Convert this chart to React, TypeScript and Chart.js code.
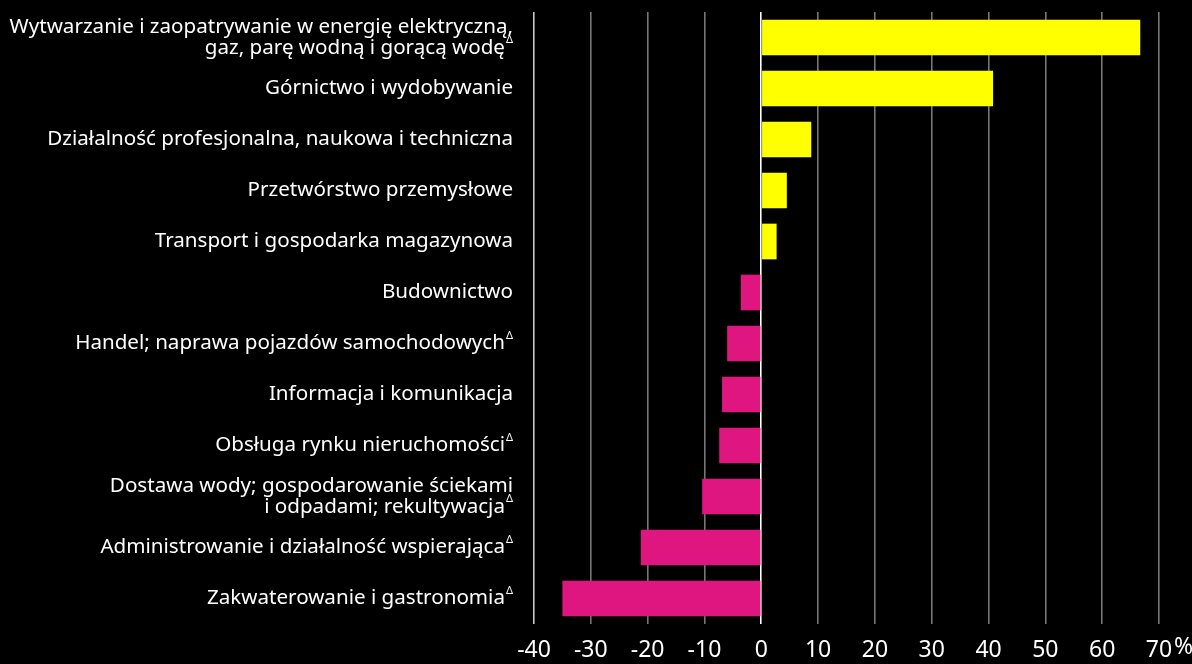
import React, { useEffect, useRef } from "react";
import { Chart, registerables } from "chart.js";

Chart.register(...registerables);

const categories: string[][] = [
  ["Wytwarzanie i zaopatrywanie w energię elektryczną,", "gaz, parę wodną i gorącą wodę"],
  ["Górnictwo i wydobywanie"],
  ["Działalność profesjonalna, naukowa i techniczna"],
  ["Przetwórstwo przemysłowe"],
  ["Transport i gospodarka magazynowa"],
  ["Budownictwo"],
  ["Handel; naprawa pojazdów samochodowych"],
  ["Informacja i komunikacja"],
  ["Obsługa rynku nieruchomości"],
  ["Dostawa wody; gospodarowanie ściekami", "i odpadami; rekultywacja"],
  ["Administrowanie i działalność wspierająca"],
  ["Zakwaterowanie i gastronomia"],
];
const deltaMarks: boolean[] = [true, false, false, false, false, false, true, false, true, true, true, true];
const values: number[] = [66.7, 40.8, 8.8, 4.5, 2.7, -3.6, -6.0, -6.9, -7.4, -10.4, -21.2, -35.0];
const xMin = -40;
const xMax = 70;
const xStep = 10;
const unitLabel = "%";

const POS_COLOR = "#FFFF00";
const NEG_COLOR = "#DF1680";
const FONT = "'Noto Sans', 'Open Sans', sans-serif";
const LABEL_SIZE = 20.6;
const TICK_SIZE = 23;

const labelPlugin = {
  id: "customLabels",
  afterDraw(chart: any) {
    const ctx = chart.ctx;
    const yScale = chart.scales.y;
    const xScale = chart.scales.x;
    const right = 513;
    const lineH = 21;
    ctx.save();
    ctx.fillStyle = "#ffffff";
    ctx.textBaseline = "middle";
    categories.forEach((lines, i) => {
      const cy = yScale.getPixelForValue(i);
      const n = lines.length;
      lines.forEach((line, j) => {
        const y = cy + (j - (n - 1) / 2) * lineH;
        let endX = right;
        const isLast = j === n - 1;
        if (isLast && deltaMarks[i]) {
          ctx.font = `11px ${FONT}`;
          ctx.textAlign = "right";
          const dw = ctx.measureText("Δ").width;
          ctx.fillText("Δ", right, y - 8);
          endX = right - dw - 1;
        }
        ctx.font = `${LABEL_SIZE}px ${FONT}`;
        ctx.textAlign = "right";
        ctx.fillText(line, endX, y);
      });
    });
    // unit sign next to the last tick
    const lastX = xScale.getPixelForValue(xMax);
    ctx.font = `${TICK_SIZE}px ${FONT}`;
    ctx.textAlign = "left";
    ctx.textBaseline = "middle";
    ctx.fillText(unitLabel, lastX + 15, 647);
    ctx.restore();
  },
};

export default function App() {
  const canvasRef = useRef<HTMLCanvasElement | null>(null);

  useEffect(() => {
    const canvas = canvasRef.current;
    if (!canvas) return;
    const chart = new Chart(canvas, {
      type: "bar",
      data: {
        labels: categories.map((c) => c.join(" ")),
        datasets: [
          {
            data: values,
            backgroundColor: values.map((v) => (v >= 0 ? POS_COLOR : NEG_COLOR)),
            borderWidth: 0,
            categoryPercentage: 0.7,
            barPercentage: 1,
          },
        ],
      },
      options: {
        indexAxis: "y",
        animation: false,
        responsive: false,
        maintainAspectRatio: false,
        layout: { padding: { top: 12, right: 33, left: 0, bottom: 0 } },
        plugins: {
          legend: { display: false },
          tooltip: { enabled: false },
        },
        scales: {
          x: {
            type: "linear",
            position: "bottom",
            min: xMin,
            max: xMax,
            afterFit: (scale: any) => {
              scale.height = 40;
            },
            border: { display: false },
            grid: {
              drawTicks: false,
              lineWidth: 1.6,
              color: (c: any) => {
                const v = c.tick ? c.tick.value : null;
                if (v === 0) return "#ffffff";
                if (v === xMin) return "#c8c8c8";
                return "#767676";
              },
            },
            ticks: {
              stepSize: xStep,
              color: "#ffffff",
              padding: 13,
              font: { family: FONT, size: TICK_SIZE },
              callback: (v: any) => String(v),
            },
          },
          y: {
            type: "category",
            afterFit: (scale: any) => {
              scale.width = 534;
            },
            border: { display: false },
            grid: { display: false, drawTicks: false },
            ticks: { display: false },
          },
        },
      },
      plugins: [labelPlugin],
    });
    return () => chart.destroy();
  }, []);

  return (
    <div
      style={{
        position: "fixed",
        left: 0,
        top: 0,
        width: 1192,
        height: 664,
        background: "#000000",
      }}
    >
      <canvas ref={canvasRef} width={1192} height={664} style={{ display: "block" }} />
    </div>
  );
}
